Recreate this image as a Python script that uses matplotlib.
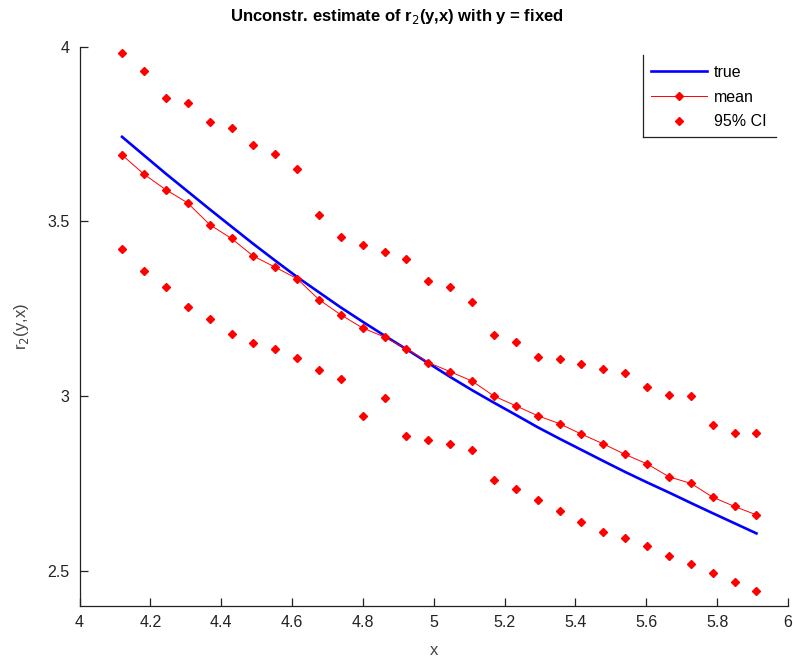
import matplotlib
matplotlib.use("Agg")
import matplotlib.pyplot as plt
from matplotlib.lines import Line2D
import numpy as np

plt.rcParams['font.family'] = ['Liberation Sans', 'DejaVu Sans']

# grid of x values (30 points)
x = [4.120, 4.182, 4.243, 4.305, 4.367, 4.429, 4.490, 4.552, 4.614, 4.676,
     4.737, 4.799, 4.861, 4.923, 4.985, 5.046, 5.108, 5.170, 5.232, 5.293,
     5.355, 5.417, 5.479, 5.540, 5.602, 5.664, 5.726, 5.787, 5.849, 5.911]

true_r2 = [3.742, 3.689, 3.637, 3.586, 3.535, 3.485, 3.436, 3.388, 3.341, 3.297,
           3.254, 3.213, 3.173, 3.134, 3.094, 3.055, 3.017, 2.981, 2.946, 2.911,
           2.878, 2.846, 2.814, 2.783, 2.753, 2.724, 2.694, 2.665, 2.636, 2.607]

mean_r2 = [3.690, 3.635, 3.591, 3.553, 3.491, 3.451, 3.401, 3.369, 3.336, 3.276,
           3.233, 3.195, 3.169, 3.135, 3.096, 3.070, 3.043, 3.000, 2.972, 2.944,
           2.921, 2.891, 2.863, 2.833, 2.806, 2.769, 2.750, 2.711, 2.684, 2.660]

ci_upper = [3.982, 3.931, 3.853, 3.838, 3.783, 3.768, 3.720, 3.693, 3.650, 3.518,
            3.455, 3.432, 3.412, 3.392, 3.330, 3.311, 3.268, 3.175, 3.156, 3.113,
            3.105, 3.093, 3.077, 3.065, 3.027, 3.004, 3.000, 2.918, 2.894, 2.894]

ci_lower = [3.420, 3.358, 3.311, 3.256, 3.222, 3.179, 3.152, 3.136, 3.109, 3.076,
            3.050, 2.944, 2.995, 2.885, 2.874, 2.862, 2.846, 2.761, 2.733, 2.702,
            2.672, 2.640, 2.612, 2.594, 2.570, 2.542, 2.518, 2.495, 2.468, 2.441]

xticks = [4, 4.2, 4.4, 4.6, 4.8, 5, 5.2, 5.4, 5.6, 5.8, 6]
xticklabels = ['4', '4.2', '4.4', '4.6', '4.8', '5', '5.2', '5.4', '5.6', '5.8', '6']
yticks = [2.5, 3, 3.5, 4]
yticklabels = ['2.5', '3', '3.5', '4']

fig = plt.figure(figsize=(7.93, 6.63), dpi=100)
ax = fig.add_axes([0.1003, 0.0864, 0.8934, 0.8432])

ax.plot(x, true_r2, color='#0000ff', lw=1.9, label='true')
ax.plot(x, mean_r2, color='#ff0000', lw=0.7, marker='D', ms=4.0, mec='#ff0000', label='mean')
ax.plot(x, ci_upper, ls='none', color='#ff0000', marker='D', ms=4.0, label='95% CI')
ax.plot(x, ci_lower, ls='none', color='#ff0000', marker='D', ms=4.0)

ax.set_xlim(4, 6)
ax.set_ylim(2.4, 4)
ax.set_xticks(xticks)
ax.set_xticklabels(xticklabels)
ax.set_yticks(yticks)
ax.set_yticklabels(yticklabels)
ax.tick_params(direction='in', length=6, width=0.9, labelsize=11.5, colors='#222222', pad=7)

for s in ['top', 'right']:
    ax.spines[s].set_visible(False)
for s in ['left', 'bottom']:
    ax.spines[s].set_color('#222222')
    ax.spines[s].set_linewidth(0.9)

ax.set_xlabel('x', fontsize=12, color='#444444', labelpad=9)
ax.set_ylabel('r$_2$(y,x)', fontsize=12, color='#444444', labelpad=12)
fig.text(0.5, 1 - 16 / 663, 'Unconstr. estimate of r$_2$(y,x) with y = fixed',
         fontsize=12, fontweight='bold', ha='center', va='center')

leg = ax.legend(loc='upper left', bbox_to_anchor=(643 / 793, 1 - 57 / 663),
                bbox_transform=fig.transFigure, frameon=False, fontsize=11.5,
                handlelength=3.5, handletextpad=0.45, labelspacing=0.6,
                borderaxespad=0, borderpad=0.5)

# legend box edges (only left and bottom drawn, as in the reference)
fig.add_artist(Line2D([643 / 793, 643 / 793], [1 - 55 / 663, 1 - 137 / 663],
                      transform=fig.transFigure, color='#222222', lw=0.9))
fig.add_artist(Line2D([643 / 793, 776 / 793], [1 - 137 / 663, 1 - 137 / 663],
                      transform=fig.transFigure, color='#222222', lw=0.9))

fig.savefig('out.png', dpi=100)
